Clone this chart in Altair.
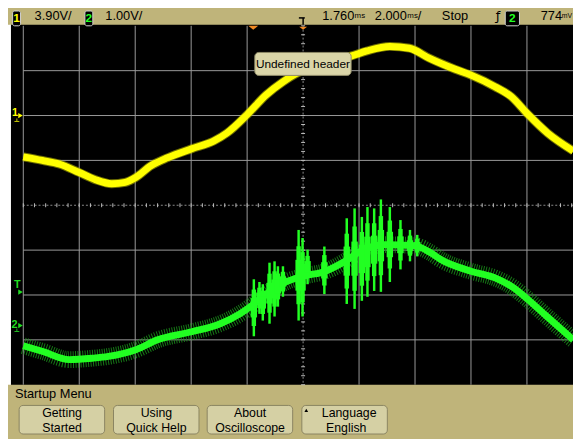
import altair as alt
import pandas as pd

# ---------------- data (screen divisions: x -5..5, y -4..4) ----------------
ch1_x = [-5.0, -4.66, -4.36, -4.0, -3.71, -3.42, -3.18, -2.99, -2.72, -2.42, -1.99, -1.6, -1.36,
         -1.0, -0.66, -0.36, -0.13, 0.22, 0.58, 0.87, 1.14, 1.55, 1.9, 2.25, 2.72, 3.0, 3.43,
         3.72, 4.0, 4.37, 4.83]
ch1_y = [1.08, 1.0, 0.92, 0.73, 0.57, 0.48, 0.51, 0.62, 0.88, 1.06, 1.26, 1.43, 1.61,
         2.02, 2.46, 2.75, 2.93, 3.1, 3.23, 3.33, 3.44, 3.54, 3.5, 3.28, 3.03, 2.9, 2.64,
         2.42, 2.05, 1.61, 1.21]

ch2_x = [-5.0, -4.65, -4.18, -3.77, -3.48, -2.99, -2.6, -1.99, -1.48, -1.13, -0.92, -0.66,
         -0.31, 0.01, 0.4, 0.75, 1.02, 1.46, 1.99, 2.28, 2.46, 3.0, 3.45, 3.75, 4.01, 4.34, 4.83]
ch2_y = [-3.13, -3.26, -3.44, -3.41, -3.37, -3.22, -3.0, -2.82, -2.64, -2.42, -2.24, -1.98,
         -1.71, -1.58, -1.47, -1.25, -1.03, -0.88, -0.9, -1.06, -1.21, -1.47, -1.63, -1.83,
         -2.09, -2.46, -3.0]

burst_x = [-0.88, -0.78, -0.72, -0.6, -0.51, -0.45, -0.36, -0.08, -0.01, 0.08, 0.38, 0.78,
           0.92, 1.05, 1.15, 1.27, 1.39, 1.55, 1.74, 1.91, 2.04]
burst_top = [-1.65, -1.71, -1.76, -1.28, -1.25, -1.36, -1.36, -0.55, -0.73, -0.99, -0.92,
             -0.29, -0.07, -0.26, -0.04, -0.07, 0.13, -0.04, -0.33, -0.55, -0.66]
burst_bot = [-2.92, -2.42, -2.57, -2.64, -2.48, -2.26, -2.04, -2.57, -2.48, -1.76, -1.98,
             -2.2, -2.31, -2.13, -2.04, -1.91, -1.93, -1.71, -1.43, -1.25, -1.14]

grid_x = [-5, -4, -3, -2, -1, 1, 2, 3, 4]
grid_y = [-3, -2, -1, 1, 2, 3]
minor_x = [-5 + 0.2 * k for k in range(50)]
minor_y = [-4 + 0.2 * k for k in range(41)]

header_ch1 = "3.90V/"
header_ch2 = "1.00V/"
header_delay = "1.760"
header_timebase = "2.000"
header_state = "Stop"
header_level = "774"
menu_title = "Startup Menu"
buttons = [("Getting", "Started"), ("Using", "Quick Help"), ("About", "Oscilloscope"),
           ("Language", "English")]
popup = "Undefined header"

# ---------------- layout ----------------
W, H = 557.5, 364
KHAKI = "#BFB47A"
FONT = "Liberation Sans"
GRID = "#9A9A9A"

xs = alt.Scale(domain=[-5, 4.823], nice=False, zero=False)
ys = alt.Scale(domain=[-4, 4], nice=False, zero=False)

one = alt.Data(values=[{"a": 0}])


def rect(x1, x2, y1, y2, fill, stroke=None, sw=1, r=0):
    kw = dict(fill=fill, cornerRadius=r)
    if stroke:
        kw.update(stroke=stroke, strokeWidth=sw)
    return alt.Chart(one).mark_rect(**kw).encode(
        x=alt.value(x1), x2=alt.value(x2), y=alt.value(y1), y2=alt.value(y2))


def txt(s, x, y, color="black", size=13, align="left", weight="normal", font=FONT):
    return alt.Chart(one).mark_text(
        text=s, color=color, fontSize=size, align=align, baseline="middle",
        font=font, fontWeight=weight).encode(x=alt.value(x), y=alt.value(y))


def seg(x1, y1, x2, y2, color, sw=1):
    return alt.Chart(one).mark_rule(color=color, strokeWidth=sw).encode(
        x=alt.value(x1), y=alt.value(y1), x2=alt.value(x2), y2=alt.value(y2))


def tri(x, y, shape, color, size):
    return alt.Chart(one).mark_point(shape=shape, filled=True, color=color, size=size,
                                     opacity=1, strokeWidth=0).encode(
        x=alt.value(x), y=alt.value(y))


layers = []
# screen background
layers.append(rect(-15.5, -12.5, -1, H, "white"))
layers.append(rect(-12.5, W, -1, H, "black"))

# grid
gx = pd.DataFrame({"v": grid_x})
gy = pd.DataFrame({"v": grid_y})
layers.append(alt.Chart(gx).mark_rule(color=GRID, strokeWidth=1).encode(
    x=alt.X("v:Q", scale=xs, axis=None)))
layers.append(alt.Chart(gy).mark_rule(color=GRID, strokeWidth=1).encode(
    y=alt.Y("v:Q", scale=ys, axis=None)))
# centre lines with minor ticks
layers.append(alt.Chart(pd.DataFrame({"v": [0]})).mark_rule(color="#8A8A8A", strokeWidth=1,
                                                           strokeDash=[2, 2]).encode(
    x=alt.X("v:Q", scale=xs, axis=None)))
layers.append(alt.Chart(pd.DataFrame({"v": [0]})).mark_rule(color="#8A8A8A", strokeWidth=1,
                                                           strokeDash=[2, 2]).encode(
    y=alt.Y("v:Q", scale=ys, axis=None)))
layers.append(alt.Chart(pd.DataFrame({"v": minor_x})).mark_rule(color="#BDBDBD", strokeWidth=1).encode(
    x=alt.X("v:Q", scale=xs, axis=None), y=alt.value(H / 2 - 2), y2=alt.value(H / 2 + 2)))
cx = (0 + 5) / 9.823 * W
layers.append(alt.Chart(pd.DataFrame({"v": minor_y})).mark_rule(color="#BDBDBD", strokeWidth=1).encode(
    y=alt.Y("v:Q", scale=ys, axis=None), x=alt.value(cx - 2), x2=alt.value(cx + 2)))

# channel 1 (yellow)
d1 = pd.DataFrame({"t": ch1_x, "v": ch1_y})
layers.append(alt.Chart(d1).mark_line(color="#B8B800", strokeWidth=9, interpolate="monotone",
                                      opacity=0.6).encode(
    x=alt.X("t:Q", scale=xs, axis=None), y=alt.Y("v:Q", scale=ys, axis=None)))
layers.append(alt.Chart(d1).mark_line(color="#FFFF00", strokeWidth=7, interpolate="monotone").encode(
    x=alt.X("t:Q", scale=xs, axis=None), y=alt.Y("v:Q", scale=ys, axis=None)))

# channel 2 (green)
d2 = pd.DataFrame({"t": ch2_x, "v": ch2_y})
layers.append(alt.Chart(d2).mark_line(color="#1C961C", strokeWidth=17, strokeDash=[1, 1.5],
                                      interpolate="monotone", opacity=0.8).encode(
    x=alt.X("t:Q", scale=xs, axis=None), y=alt.Y("v:Q", scale=ys, axis=None)))
layers.append(alt.Chart(d2).mark_line(color="#22FF22", strokeWidth=7, interpolate="monotone").encode(
    x=alt.X("t:Q", scale=xs, axis=None), y=alt.Y("v:Q", scale=ys, axis=None)))
db = pd.DataFrame({"t": burst_x, "top": burst_top, "bot": burst_bot})
for frac, sw in [(0.0, 2.5), (0.18, 4.5), (0.33, 6.5)]:
    layers.append(alt.Chart(db).transform_calculate(
        mt=f"datum.top + (datum.bot - datum.top) * {frac}",
        mb=f"datum.bot - (datum.bot - datum.top) * {frac}").mark_rule(
        color="#22FF22", strokeWidth=sw).encode(
        x=alt.X("t:Q", scale=xs, axis=None), y=alt.Y("mt:Q", scale=ys, axis=None), y2="mb:Q"))

# popup label
layers.append(rect(234.8, 332.5, 27, 50.3, "#DAD5A8", "#8E8A68", 1, 4))
layers.append(txt(popup, 283.6, 38.8, size=12, align="center"))

# left markers
layers.append(txt("1", -11.5, 88, color="#FFFF00", size=11, weight="bold"))
layers.append(tri(-2.8, 91, "triangle-right", "#FFFF00", 28))
layers.append(seg(-6.5, 94, -6.5, 97, "#C8C800"))
layers.append(seg(-9, 97, -4, 97, "#C8C800"))
layers.append(txt("T", -9.5, 263, color="#22DD22", size=11, weight="bold"))
layers.append(tri(-2.8, 270, "triangle-right", "#22DD22", 28))
layers.append(txt("2", -12, 303, color="#22DD22", size=11, weight="bold"))
layers.append(tri(-2.8, 304, "triangle-right", "#22DD22", 28))
layers.append(seg(-6.5, 307, -6.5, 310, "#22BB22"))
layers.append(seg(-9, 310, -4, 310, "#22BB22"))

# header bar
layers.append(rect(-10.8, -2.8, -15, 0, "black", "#D0D0D0", 1, 2))
layers.append(txt("1", -6.8, -7.5, color="#FFFF00", size=12, align="center", weight="bold"))
layers.append(txt(header_ch1, 11.5, -10))
layers.append(rect(62.5, 70.5, -15, 0, "black", "#D0D0D0", 1, 2))
layers.append(txt("2", 66.5, -7.5, color="#22FF22", size=12, align="center", weight="bold"))
layers.append(txt(header_ch2, 83.2, -10))
layers.append(tri(233.2, 2, "M-1,-0.4L1,-0.4L0,0.4Z", "#F08A24", 100))
layers.append(seg(279.5, -8, 285.5, -8, "black", 1.5))
layers.append(seg(283.8, -8, 283.8, -1, "black", 1.5))
layers.append(tri(283.8, 2.5, "M-1,-0.4L1,-0.4L0,0.4Z", "#F08A24", 64))
layers.append(txt(header_delay, 303.2, -10))
layers.append(txt("ms", 336, -10, size=8))
layers.append(txt(header_timebase, 356.5, -10))
layers.append(txt("ms", 389.5, -10, size=8))
layers.append(txt("/", 400, -10))
layers.append(txt(header_state, 424.5, -10))
layers.append(txt("\u0192", 481.5, -10, size=13, align="center", font="DejaVu Sans"))
layers.append(rect(488.8, 503.2, -15, 0, "black", "#D0D0D0", 1, 2))
layers.append(txt("2", 496, -7.5, color="#22FF22", size=12, align="center", weight="bold"))
layers.append(txt(header_level, 524.8, -10))
layers.append(txt("mV", 546, -10, size=7))

# bottom menu
layers.append(txt(menu_title, -8.5, 373.5, size=13))
btn_left = [-4.2, 91.5, 186.5, 282.5]
for i, (l1, l2) in enumerate(buttons):
    x0 = btn_left[i]
    layers.append(rect(x0, x0 + 86.7, 385, 414, "#D5D0A4", "#8A8462", 1, 4))
    c = x0 + 43.5 + (1.5 if i == 3 else 0)
    layers.append(txt(l1, c + (3 if i == 3 else 0), 392.5, size=12.5, align="center"))
    layers.append(txt(l2, c, 407.5, size=12.5, align="center"))
layers.append(tri(287, 390, "triangle-up", "black", 14))

chart = alt.layer(*layers).properties(
    width=W, height=H, autosize="none", background=KHAKI,
    padding={"left": 15.5, "top": 15, "right": 0, "bottom": 52},
).configure_view(stroke=None, fill=None)

chart.save("out.html", embed_options={"renderer": "svg", "actions": False})
